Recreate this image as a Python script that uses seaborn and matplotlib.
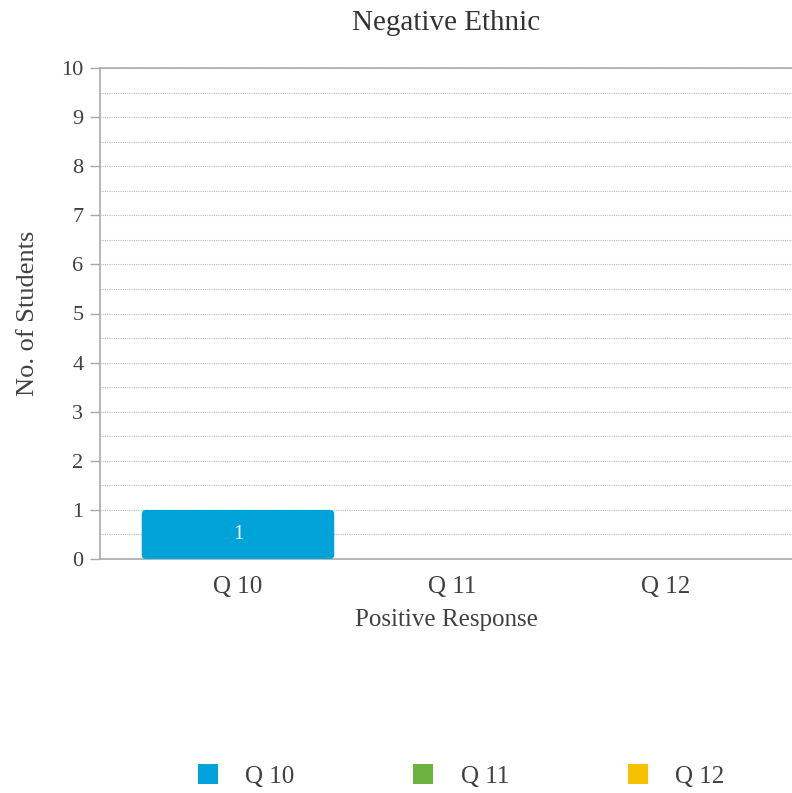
import matplotlib
matplotlib.use("Agg")
import matplotlib.pyplot as plt
import seaborn as sns
from matplotlib.patches import Patch, FancyBboxPatch
from matplotlib.ticker import MultipleLocator

categories = ["Q 10", "Q 11", "Q 12"]
values = [1, 0, 0]
colors = ["#00A3D7", "#6DB33F", "#F6C100"]
title = "Negative Ethnic"
xlabel = "Positive Response"
ylabel = "No. of Students"

sns.set_theme(style="white")
plt.rcParams["font.family"] = ["Liberation Serif", "DejaVu Serif"]

fig = plt.figure(figsize=(7.92, 7.93), dpi=100)
ax = fig.add_axes([100 / 792, 1 - 559 / 793, 692 / 792, (559 - 68) / 793])

sns.barplot(x=categories, y=values, hue=categories, palette=colors,
            width=0.9, legend=False, ax=ax, saturation=1)

# rounded bar corners
for p in list(ax.patches):
    x0, y0 = p.get_x(), p.get_y()
    w, h = p.get_width(), p.get_height()
    if h <= 0:
        p.set_visible(False)
        continue
    fb = FancyBboxPatch((x0, y0), w, h,
                        boxstyle="round,pad=0,rounding_size=0.02",
                        mutation_aspect=4.3,
                        facecolor=p.get_facecolor(), edgecolor="none", zorder=3)
    p.set_visible(False)
    ax.add_patch(fb)
    ax.text(x0 + w / 2, y0 + h / 2, f"{int(h)}", ha="center", va="center",
            color="white", fontsize=15, zorder=4)

ax.set_xlim(-0.645, 2.59)
ax.set_ylim(0, 10)
ax.yaxis.set_major_locator(MultipleLocator(1))
ax.yaxis.set_minor_locator(MultipleLocator(0.5))
ax.grid(True, which="both", axis="y", linestyle=(0, (1, 1)), color="#BBBBBB", linewidth=0.8)
ax.set_axisbelow(True)

for s in ["left", "bottom", "top"]:
    ax.spines[s].set_visible(True)
    ax.spines[s].set_color("#AAAAAA")
    ax.spines[s].set_linewidth(1.2)
ax.spines["right"].set_visible(False)

ax.tick_params(axis="y", which="major", left=True, length=7, width=1, color="#AAAAAA",
               labelsize=16, labelcolor="#404040", pad=5)
ax.tick_params(axis="y", which="minor", left=False)
ax.tick_params(axis="x", bottom=False, labelsize=18, labelcolor="#404040", pad=6)

ax.set_title(title, fontsize=21, color="#333333", pad=27)
ax.set_xlabel(xlabel, fontsize=18, color="#404040", labelpad=8)
ax.set_ylabel(ylabel, fontsize=19, color="#404040", labelpad=16)

handles = [Patch(facecolor=c, edgecolor="none", label=l) for c, l in zip(colors, categories)]
fig.legend(handles=handles, loc="center", bbox_to_anchor=(0.582, 1 - 776 / 793), ncol=3,
           frameon=False, fontsize=18, handlelength=0.8, handleheight=0.8,
           handletextpad=1.1, columnspacing=4.75, labelcolor="#404040")

fig.savefig("out.png", dpi=100)
